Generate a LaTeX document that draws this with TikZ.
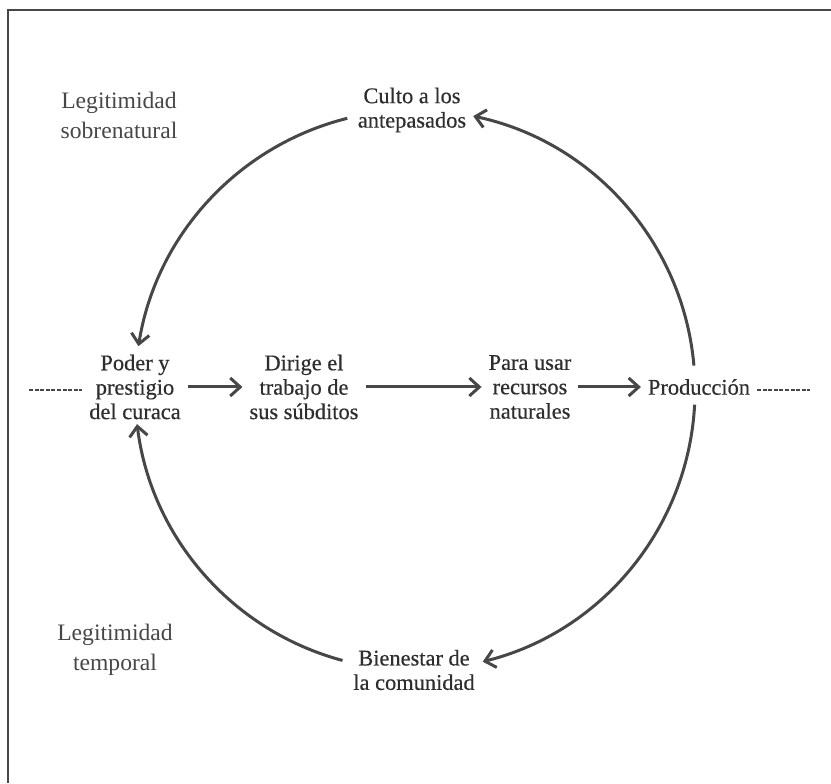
\documentclass[tikz,border=0pt]{standalone}
\usepackage{fontspec}
\setmainfont{Liberation Serif}
\newfontfamily\lblfont[FakeBold=0.5]{Liberation Serif}
\usetikzlibrary{arrows.meta,positioning,calc}
\definecolor{inkgray}{gray}{0.18}
\definecolor{linegray}{gray}{0.28}
\definecolor{leggray}{gray}{0.28}

\begin{document}
\begin{tikzpicture}[
  x=0.5pt, y=0.5pt,
  lbl/.style={align=center, text=inkgray, font=\lblfont\fontsize{11.2}{12.2}\selectfont},
  leg/.style={align=center, text=leggray, font=\fontsize{11.8}{15}\selectfont},
  arr/.style={-{Straight Barb[length=5pt,width=9pt]}, line width=1.5pt, color=linegray},
  dsh/.style={dash pattern=on 2pt off 0.8pt, line width=0.8pt, color=linegray},
]
  \useasboundingbox (0,0) rectangle (831,783);
  % frame
  \draw[line width=1.2pt, color=linegray] (8,0) -- (8,773) -- (831,773);

  \node[leg] (legsob) at (119,668) {Legitimidad\\sobrenatural};
  \node[leg] (legtem) at (115,133) {Legitimidad\\temporal};

  \node[lbl] (culto) at (412,673) {Culto a los\\antepasados};
  \node[lbl] (poder) at (135,396) {Poder y\\prestigio\\del curaca};
  \node[lbl] (dirige) at (304,396) {Dirige el\\trabajo de\\sus súbditos};
  \node[lbl] (para) at (530,396) {Para usar\\recursos\\naturales};
  \node[lbl] (prod) at (699,396) {Producción};
  \node[lbl] (bien) at (414,113) {Bienestar de\\la comunidad};

  % points on the cycle
  \coordinate (cc) at (415,393);
  \coordinate (cultoL) at ($(cc)+(104:140pt)$);
  \coordinate (prodN) at ($(cc)+(5:140pt)$);
  \coordinate (prodS) at ($(cc)+(-3:140pt)$);
  \coordinate (bienL) at ($(cc)+(255:140pt)$);
  \coordinate (lfree) at (29,393);
  \coordinate (rfree) at (810,393);

  \draw[arr] (cultoL) arc[start angle=104, end angle=171, radius=140pt];
  \draw[arr] (prodN) arc[start angle=5, end angle=78, radius=140pt];
  \draw[arr] (prodS) arc[start angle=-3, end angle=-76, radius=140pt];
  \draw[arr] (bienL) arc[start angle=255, end angle=187, radius=140pt];

  \draw[arr] (poder) -- (dirige);
  \draw[arr] (dirige) -- (para);
  \draw[arr] (para) -- (prod);

  \draw[dsh] (lfree) -- (poder.west |- lfree);
  \draw[dsh] (prod.east |- rfree) -- (rfree);
\end{tikzpicture}
\end{document}
